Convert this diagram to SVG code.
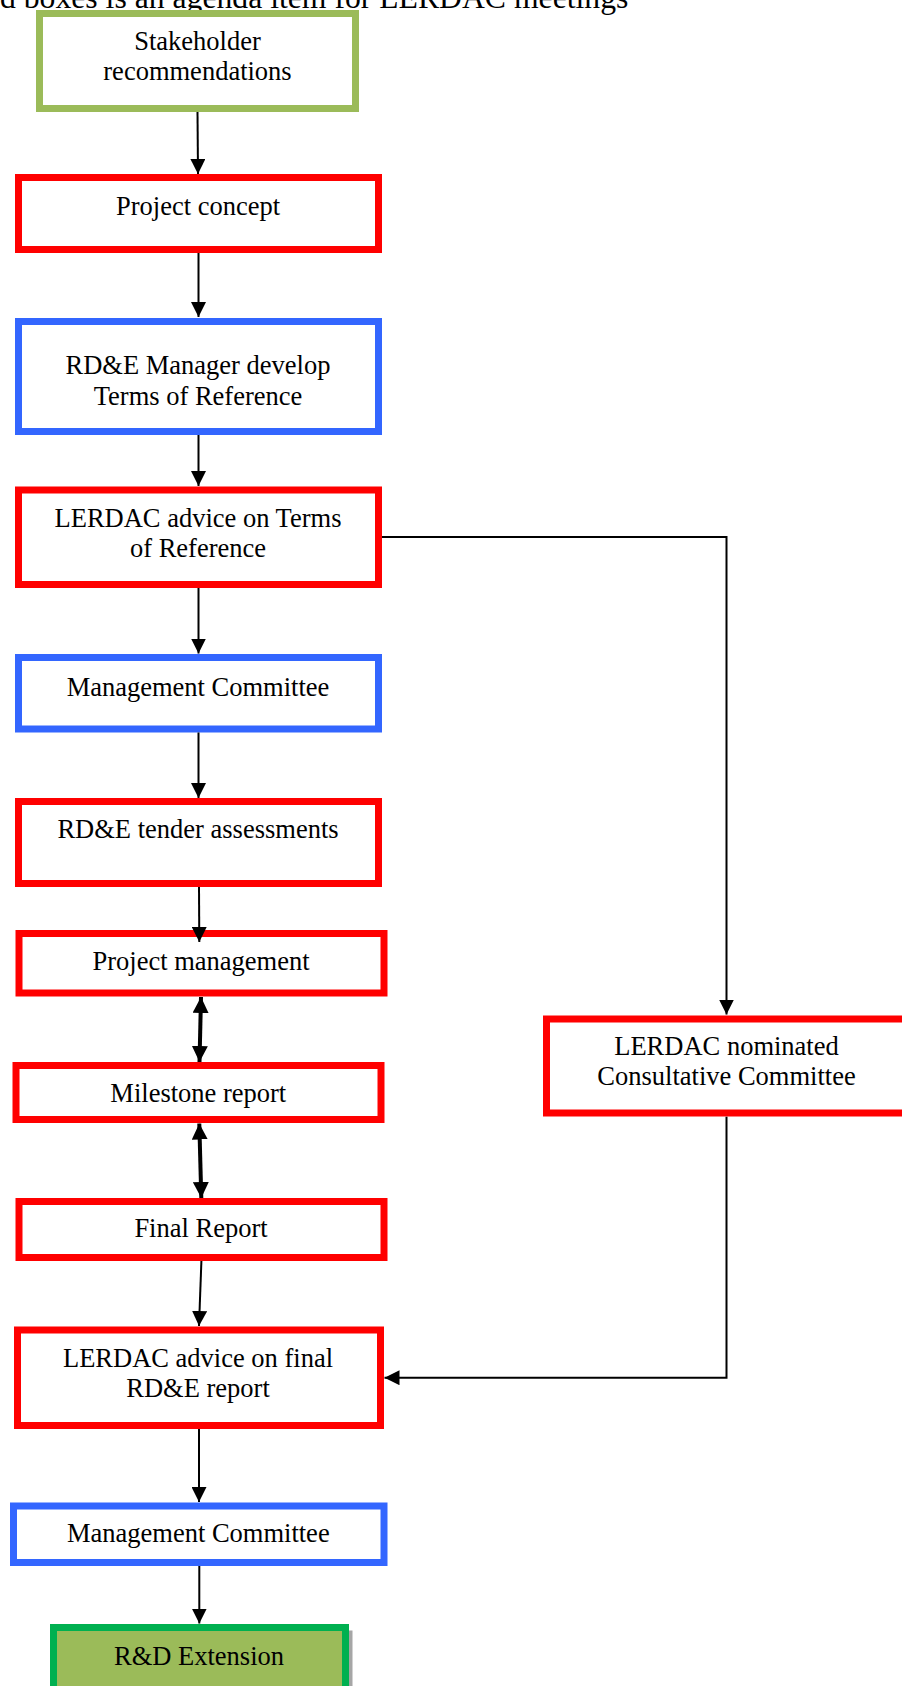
<svg xmlns="http://www.w3.org/2000/svg" width="902" height="1686" viewBox="0 0 902 1686">
<defs>
<style>
.box{fill:#ffffff;stroke-width:7}
.red{stroke:#FF0000}
.blue{stroke:#3366FF}
.lgreen{stroke:#9BBB59}
.t{font-family:"Liberation Serif","Times New Roman",serif;font-size:26.5px;fill:#000;text-anchor:middle}
.c{fill:none;stroke:#000;stroke-width:2}
.d{fill:none;stroke:#000;stroke-width:4}
</style>
<marker id="ah" viewBox="0 0 15 15" refX="15" refY="7.5" markerWidth="15" markerHeight="15" markerUnits="userSpaceOnUse" orient="auto"><path d="M0,0 L15,7.5 L0,15 z" fill="#000"/></marker>
<marker id="ah2" viewBox="0 0 16 16" refX="16" refY="8" markerWidth="16" markerHeight="16" markerUnits="userSpaceOnUse" orient="auto-start-reverse"><path d="M0,0 L16,8 L0,16 z" fill="#000"/></marker>
</defs>
<rect width="902" height="1686" fill="#ffffff"/>
<text x="0" y="7.5" font-family="Liberation Serif, Times New Roman, serif" font-size="31.7" fill="#000">d boxes is an agenda item for LERDAC meetings</text>

<g id="n-stakeholder">
<rect class="box lgreen" x="39.5" y="13.5" width="316" height="95"/>
<text class="t" x="197.5" y="50">Stakeholder</text>
<text class="t" x="197.5" y="80">recommendations</text>
</g>
<g id="n-concept">
<rect class="box red" x="18.5" y="177.5" width="360" height="72"/>
<text class="t" x="198" y="215">Project concept</text>
</g>
<g id="n-tor">
<rect class="box blue" x="18.5" y="321.5" width="360" height="110"/>
<text class="t" x="198" y="374">RD&amp;E Manager develop</text>
<text class="t" x="198" y="405">Terms of Reference</text>
</g>
<g id="n-lerdac-tor">
<rect class="box red" x="18.5" y="490" width="360" height="94.5"/>
<text class="t" x="198" y="526.7">LERDAC advice on Terms</text>
<text class="t" x="198" y="556.7">of Reference</text>
</g>
<g id="n-mc1">
<rect class="box blue" x="18.5" y="657.5" width="360" height="71.5"/>
<text class="t" x="198" y="696">Management Committee</text>
</g>
<g id="n-tender">
<rect class="box red" x="18.5" y="801.5" width="360" height="82"/>
<text class="t" x="198" y="838">RD&amp;E tender assessments</text>
</g>
<g id="n-pm">
<rect class="box red" x="19" y="933.5" width="365" height="59.5"/>
<text class="t" x="201" y="970">Project management</text>
</g>
<g id="n-milestone">
<rect class="box red" x="16" y="1065.5" width="365" height="54"/>
<text class="t" x="198.3" y="1101.7">Milestone report</text>
</g>
<g id="n-final">
<rect class="box red" x="19" y="1201.5" width="365" height="56"/>
<text class="t" x="201" y="1237">Final Report</text>
</g>
<g id="n-lerdac-final">
<rect class="box red" x="17.5" y="1330" width="363" height="95.5"/>
<text class="t" x="198" y="1366.7">LERDAC advice on final</text>
<text class="t" x="198" y="1397">RD&amp;E report</text>
</g>
<g id="n-mc2">
<rect class="box blue" x="13.5" y="1506" width="370.5" height="56.5"/>
<text class="t" x="198.3" y="1541.7">Management Committee</text>
</g>
<g id="n-rnd">
<rect x="56.5" y="1630.5" width="296" height="80" fill="#A6A6A6"/>
<rect x="53.5" y="1627.5" width="292" height="80" fill="#9BBB59" stroke="#00B050" stroke-width="7"/>
<text class="t" x="199" y="1665">R&amp;D Extension</text>
</g>
<g id="n-consultative">
<rect class="box red" x="546.5" y="1019" width="360" height="94"/>
<text class="t" x="726.5" y="1054.5">LERDAC nominated</text>
<text class="t" x="726.5" y="1085">Consultative Committee</text>
</g>

<g id="connectors">
<line class="c" x1="197.5" y1="112" x2="198" y2="174" marker-end="url(#ah)"/>
<line class="c" x1="198.5" y1="253" x2="198.5" y2="317" marker-end="url(#ah)"/>
<line class="c" x1="198.5" y1="435" x2="198.5" y2="486" marker-end="url(#ah)"/>
<line class="c" x1="198.5" y1="588" x2="198.5" y2="653.5" marker-end="url(#ah)"/>
<line class="c" x1="198.5" y1="732.5" x2="198.5" y2="798" marker-end="url(#ah)"/>
<line class="c" x1="199" y1="887" x2="199.3" y2="942" marker-end="url(#ah)"/>
<line class="d" x1="201" y1="997" x2="199.5" y2="1062" marker-start="url(#ah2)" marker-end="url(#ah2)"/>
<line class="d" x1="199.3" y1="1123.5" x2="201.3" y2="1198" marker-start="url(#ah2)" marker-end="url(#ah2)"/>
<line class="c" x1="201.4" y1="1261" x2="199" y2="1326" marker-end="url(#ah)"/>
<line class="c" x1="199" y1="1429" x2="199" y2="1502" marker-end="url(#ah)"/>
<line class="c" x1="199.3" y1="1566" x2="199.3" y2="1623.5" marker-end="url(#ah)"/>
<polyline class="c" points="382,537 726.5,537 726.5,1014.5" marker-end="url(#ah)"/>
<polyline class="c" points="726.5,1116.7 726.5,1377.7 384.5,1377.7" marker-end="url(#ah)"/>
</g>
</svg>
